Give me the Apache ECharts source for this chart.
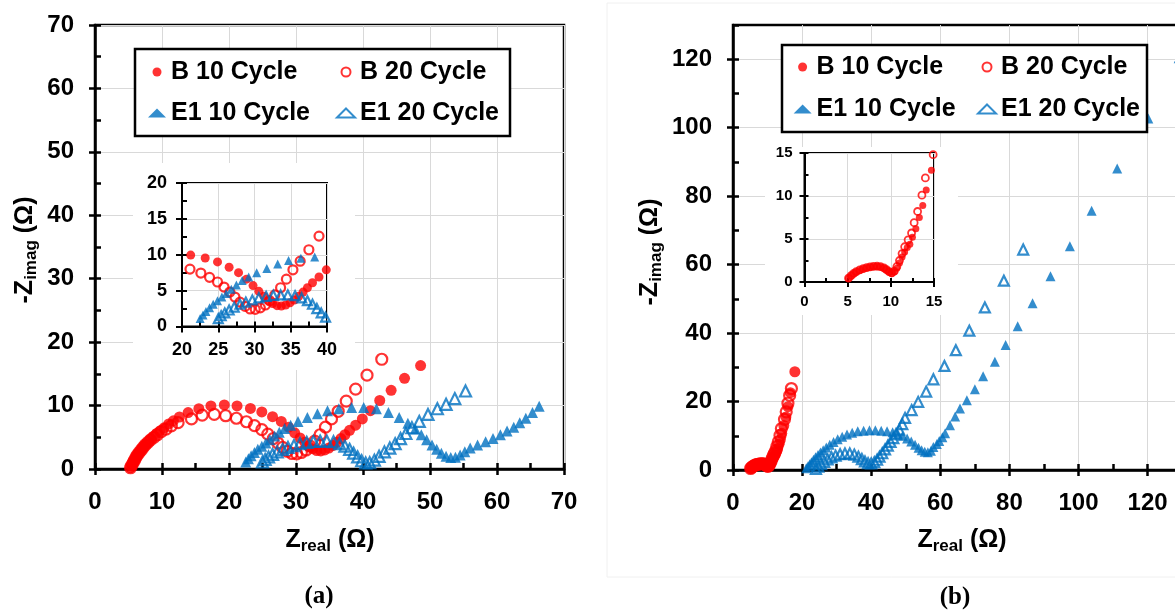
<!DOCTYPE html>
<html>
<head>
<meta charset="utf-8">
<script src="https://cdn.jsdelivr.net/npm/echarts/dist/echarts.min.js"></script>
<style>
  html, body { margin: 0; padding: 0; background: #fff; }
  #chart { width: 1175px; height: 612px; }
</style>
</head>
<body>
<div id="chart"></div>
<script>
// Nyquist plots: impedance spectra of cells B and E1 after 10 and 20 cycles.
// Each point is [Z_real (Ω), -Z_imag (Ω)].

// ---- panel (a) ----
const bCycle10A = [
  [5.3,0.2],[5.5,0.6],[5.7,1.0],[5.9,1.4],[6.1,1.8],[6.3,2.2],[6.6,2.6],[6.9,3.0],[7.2,3.4],[7.5,3.8],
  [7.9,4.2],[8.3,4.7],[8.7,5.1],[9.2,5.6],[9.7,6.0],[10.3,6.5],[11.0,7.1],[11.7,7.6],[12.6,8.2],[13.9,8.9],
  [15.5,9.5],[17.3,9.95],[19.3,10.1],[21.2,9.95],[23.2,9.55],[24.9,9.0],[26.5,8.25],[27.8,7.5],[28.9,6.6],[29.8,5.7],
  [30.6,4.9],[31.3,4.2],[31.9,3.6],[32.5,3.2],[33.1,2.9],[33.7,2.85],[34.3,3.0],[34.9,3.3],[35.5,3.7],[36.1,4.2],
  [36.7,4.8],[37.3,5.4],[38.0,6.1],[38.9,6.9],[39.9,7.9],[41.1,9.2],[42.5,10.8],[44.2,12.4],[46.2,14.3],[48.6,16.3]
];
const bCycle20A = [
  [5.3,0.2],[5.5,0.6],[5.7,1.0],[5.9,1.4],[6.1,1.8],[6.3,2.2],[6.6,2.6],[6.9,3.0],[7.2,3.4],[7.5,3.8],
  [7.9,4.2],[8.3,4.6],[8.8,5.0],[9.3,5.4],[9.9,5.9],[10.6,6.3],[11.4,6.8],[12.4,7.3],[14.4,7.9],[16.0,8.5],
  [17.8,8.6],[19.5,8.4],[21.1,8.0],[22.6,7.45],[23.8,6.85],[24.9,6.2],[25.8,5.5],[26.6,4.8],[27.3,4.1],[28.0,3.4],
  [28.7,2.8],[29.4,2.45],[30.1,2.4],[30.8,2.6],[31.5,3.0],[32.1,3.6],[32.8,4.4],[33.6,5.4],[34.4,6.6],[35.3,7.9],
  [36.3,9.1],[37.5,10.7],[38.9,12.6],[40.6,14.8],[42.8,17.3]
];
const e1Cycle10A = [
  [22.5,1.1],[22.9,1.6],[23.3,2.1],[23.8,2.6],[24.3,3.1],[24.9,3.6],[25.5,4.1],[26.1,4.6],[26.8,5.2],[27.5,5.8],
  [28.3,6.4],[29.2,6.9],[30.3,7.5],[31.7,8.1],[33.2,8.7],[34.7,9.2],[36.4,9.5],[38.3,9.7],[40.1,9.7],[42.0,9.5],
  [43.8,8.9],[45.4,8.1],[46.7,7.2],[47.8,6.3],[48.7,5.4],[49.5,4.6],[50.3,3.8],[51.0,3.1],[51.7,2.5],[52.4,2.0],
  [53.1,1.8],[53.8,1.85],[54.5,2.2],[55.2,2.7],[56.0,3.3],[57.1,3.8],[58.3,4.3],[59.4,4.8],[60.5,5.4],[61.5,6.0],
  [62.5,6.6],[63.4,7.3],[64.3,8.0],[65.3,8.9],[66.3,9.9]
];
const e1Cycle20A = [
  [25.0,1.1],[25.4,1.5],[25.9,1.9],[26.5,2.3],[27.2,2.7],[28.0,3.1],[28.8,3.4],[29.7,3.7],[30.6,4.0],[31.6,4.2],
  [32.6,4.35],[33.6,4.4],[34.6,4.4],[35.6,4.3],[36.5,4.0],[37.3,3.6],[38.0,3.1],[38.6,2.5],[39.2,1.9],[39.8,1.3],
  [40.4,0.95],[41.0,1.0],[41.7,1.4],[42.4,2.0],[43.2,2.7],[44.0,3.3],[44.8,4.0],[45.6,4.8],[46.4,5.6],[47.3,6.5],
  [48.4,7.5],[49.7,8.6],[51.1,9.5],[52.4,10.2],[53.7,11.1],[55.3,12.3]
];

// ---- panel (b) ----
const bCycle10B = [
  [5.1,0.4],[5.4,0.7],[5.7,0.95],[6.0,1.15],[6.4,1.35],[6.8,1.5],[7.2,1.62],[7.6,1.72],[8.0,1.78],[8.4,1.8],
  [8.8,1.75],[9.2,1.6],[9.5,1.4],[9.8,1.15],[10.1,1.0],[10.4,1.2],[10.7,1.6],[11.0,2.2],[11.3,2.9],[11.6,3.5],
  [11.9,4.0],[12.2,4.4],[12.5,5.2],[12.9,6.2],[13.3,7.5],[13.7,8.9],[14.1,10.7],[14.7,13.0],[15.3,15.5],[15.9,18.5],
  [16.6,22.6],[17.9,28.7]
];
const bCycle20B = [
  [5.1,0.45],[5.4,0.75],[5.7,1.0],[6.0,1.2],[6.4,1.4],[6.8,1.55],[7.2,1.67],[7.6,1.76],[8.0,1.82],[8.4,1.83],
  [8.8,1.78],[9.2,1.63],[9.5,1.43],[9.8,1.2],[10.1,1.05],[10.4,1.25],[10.7,1.8],[11.0,2.5],[11.3,3.3],[11.6,4.1],
  [12.0,4.9],[12.4,5.7],[12.7,6.9],[13.1,8.2],[13.6,10.1],[14.0,12.1],[14.9,14.8],[15.4,17.0],[15.9,19.5],[16.4,21.8],
  [16.9,23.8]
];
const e1Cycle10B = [
  [21.2,0.5],[21.7,1.1],[22.2,1.7],[22.7,2.3],[23.3,3.0],[23.9,3.7],[24.6,4.4],[25.3,5.1],[26.1,5.8],[27.0,6.6],
  [28.0,7.4],[29.1,8.2],[30.3,9.0],[31.6,9.7],[33.0,10.4],[34.5,10.9],[36.1,11.3],[37.8,11.5],[39.5,11.6],[41.2,11.6],
  [42.9,11.5],[44.6,11.3],[46.2,11.0],[47.7,10.6],[49.1,10.0],[50.4,9.2],[51.6,8.3],[52.7,7.4],[53.7,6.5],[54.6,5.8],
  [55.5,5.3],[56.4,5.2],[57.3,5.6],[58.0,6.7],[59.0,7.6],[59.7,8.5],[60.6,9.6],[61.4,10.7],[62.8,13.1],[64.3,15.6],
  [65.7,18.0],[67.7,20.4],[70.0,23.6],[72.4,27.4],[75.8,31.6],[78.9,36.5],[82.4,42.0],[86.7,48.7],[91.9,56.6],[97.5,65.4],
  [103.8,75.7],[111.2,88.1],[120.2,102.7],[129.0,120.3]
];
const e1Cycle20B = [
  [24.0,0.3],[24.7,1.0],[25.5,1.7],[26.4,2.4],[27.4,3.1],[28.5,3.7],[29.7,4.2],[31.0,4.6],[32.4,4.8],[33.8,4.8],
  [35.1,4.5],[36.3,3.9],[37.3,3.2],[38.2,2.5],[39.1,2.0],[40.0,1.9],[40.9,2.3],[41.7,3.0],[42.4,3.9],[43.2,4.9],
  [44.0,6.0],[44.8,7.1],[45.6,8.2],[46.4,9.3],[47.2,10.5],[48.1,11.8],[49.0,13.4],[49.8,15.2],[51.7,17.5],[53.6,19.9],
  [55.9,22.9],[58.0,26.5],[61.2,30.4],[64.5,35.0],[68.4,40.7],[72.9,47.5],[78.4,55.3],[84.0,64.4]
];

const seriesNames = ['B 10 Cycle', 'B 20 Cycle', 'E1 10 Cycle', 'E1 20 Cycle'];
const panelLabels = ['(a)', '(b)'];
const yTicksB = [0, 20, 40, 60, 80, 100, 120];

const SANS = '"Liberation Sans", Arial, sans-serif';
const SERIF = '"Liberation Serif", "Times New Roman", serif';
const RED = '#ff0000';
const BLUE = '#0070c0';
const GRID_LINE = '#d9d9d9';

// Two stacked value axes per side: the outer one carries labels, split lines and
// outward major ticks; the inner one only draws inward ticks at the minor step.
function axisPair(dim, gridIndex, min, max, major, minor, o) {
  const pos = dim === 'x' ? 'bottom' : 'left';
  const lw = o.lineWidth;
  const outer = {
    type: 'value', gridIndex, position: pos, min, max, interval: major, z: o.z,
    axisLine: { show: true, onZero: false, lineStyle: { color: '#000', width: lw } },
    axisTick: { show: true, inside: false, length: o.tick, lineStyle: { color: '#000', width: lw } },
    minorTick: { show: false },
    axisLabel: {
      show: true, margin: o.margin, fontSize: o.font, fontWeight: 'bold', fontFamily: SANS, color: '#000',
      showMinLabel: true, showMaxLabel: true, hideOverlap: false
    },
    splitLine: { show: true, lineStyle: { color: GRID_LINE, width: 1 } }
  };
  if (o.customTicks) {
    outer.axisTick.customValues = o.customTicks;
    outer.axisLabel.customValues = o.customTicks;
  }
  const inner = {
    type: 'value', gridIndex, position: pos, min, max, interval: minor, z: o.z,
    axisLine: { show: false },
    axisTick: { show: true, inside: true, length: o.tickIn, lineStyle: { color: '#000', width: lw } },
    minorTick: { show: false },
    axisLabel: { show: false },
    splitLine: { show: false }
  };
  return [outer, inner];
}

const mainStyle = { lineWidth: 2.5, tick: 6, tickIn: 6, font: 24, margin: 21, z: 0 };
const insetStyleA = { lineWidth: 2, tick: 6, tickIn: 5, font: 18, margin: 15, z: 2 };
const insetStyleB = { lineWidth: 2, tick: 5, tickIn: 4, font: 15, margin: 12, z: 2 };

const xAxes = [].concat(
  axisPair('x', 0, 0, 70, 10, 5, mainStyle),
  axisPair('x', 1, 20, 40, 5, 2.5, insetStyleA),
  axisPair('x', 2, 0, 140, 20, 10, mainStyle),
  axisPair('x', 3, 0, 15, 5, 2.5, insetStyleB)
);
const yAxes = [].concat(
  axisPair('y', 0, 0, 70, 10, 5, mainStyle),
  axisPair('y', 1, 0, 20, 5, 2.5, insetStyleA),
  axisPair('y', 2, 0, 130, 20, 10, Object.assign({}, mainStyle, { customTicks: yTicksB })),
  axisPair('y', 3, 0, 15, 5, 2.5, insetStyleB)
);

function scatter(name, data, axisIndex, size, z) {
  const isB = name.charAt(0) === 'B';
  const color = isB ? RED : BLUE;
  const open = name.indexOf('20') >= 0;
  return {
    type: 'scatter', name, data, xAxisIndex: axisIndex, yAxisIndex: axisIndex,
    symbol: isB ? 'circle' : 'triangle', symbolSize: size, z, clip: true,
    itemStyle: open
      ? { color: 'rgba(255,255,255,0)', borderColor: color, borderWidth: size > 8 ? 2.2 : 1.8 }
      : { color: color, borderWidth: 0 },
    emphasis: { disabled: true }
  };
}

const series = [
  // panel (a) main plot
  scatter(seriesNames[0], bCycle10A, 0, 11, 2),
  scatter(seriesNames[1], bCycle20A, 0, 11, 2),
  scatter(seriesNames[2], e1Cycle10A, 0, 11, 2),
  scatter(seriesNames[3], e1Cycle20A, 0, 11, 2),
  // panel (a) inset, 20–40 Ω window
  scatter(seriesNames[0], bCycle10A, 2, 9, 3),
  scatter(seriesNames[1], bCycle20A, 2, 9, 3),
  scatter(seriesNames[2], e1Cycle10A, 2, 9, 3),
  scatter(seriesNames[3], e1Cycle20A, 2, 9, 3),
  // panel (b) main plot
  scatter(seriesNames[0], bCycle10B, 4, 11, 2),
  scatter(seriesNames[1], bCycle20B, 4, 11, 2),
  scatter(seriesNames[2], e1Cycle10B, 4, 10, 2),
  scatter(seriesNames[3], e1Cycle20B, 4, 10, 2),
  // panel (b) inset, 0–15 Ω window
  scatter(seriesNames[0], bCycle10B, 6, 7, 3),
  scatter(seriesNames[1], bCycle20B, 6, 7, 3)
];

const legendText = { fontSize: 25, fontWeight: 'bold', fontFamily: SANS, color: '#000', lineHeight: 26 };
function legendColumn(names, left, top, gap) {
  return {
    data: names, left, top, orient: 'vertical', padding: 0, itemGap: gap,
    itemWidth: 18, itemHeight: 9, selectedMode: false, z: 5, textStyle: legendText
  };
}

const titleRich = {
  m: { fontSize: 25, fontWeight: 'bold', fontFamily: SANS, color: '#000', lineHeight: 30 },
  s: { fontSize: 17, fontWeight: 'bold', fontFamily: SANS, color: '#000', lineHeight: 17, verticalAlign: 'bottom' }
};
function axisTitle(x, y, text, rotation) {
  return {
    type: 'text', x, y, rotation: rotation || 0, z: 5,
    style: { text, rich: titleRich, align: 'center', verticalAlign: 'middle' }
  };
}

const option = {
  backgroundColor: '#fff',
  animation: false,
  grid: [
    { left: 95, top: 25, width: 469, height: 444, show: true, borderColor: '#000', borderWidth: 2.5, backgroundColor: 'transparent', outerBoundsMode: 'none', containLabel: false, z: 0 },
    { left: 182, top: 183, width: 145, height: 143.5, show: true, borderColor: '#000', borderWidth: 2, backgroundColor: 'transparent', outerBoundsMode: 'none', containLabel: false, z: 2 },
    { left: 733, top: 25, width: 483.7, height: 445, show: true, borderColor: '#000', borderWidth: 2.5, backgroundColor: 'transparent', outerBoundsMode: 'none', containLabel: false, z: 0 },
    { left: 804.5, top: 153, width: 129.5, height: 129, show: true, borderColor: '#000', borderWidth: 2, backgroundColor: 'transparent', outerBoundsMode: 'none', containLabel: false, z: 2 }
  ],
  xAxis: xAxes,
  yAxis: yAxes,
  legend: [
    legendColumn([seriesNames[0], seriesNames[2]], 148, 59, 15),
    legendColumn([seriesNames[1], seriesNames[3]], 336, 59, 15),
    legendColumn([seriesNames[0], seriesNames[2]], 793.6, 54, 16),
    legendColumn([seriesNames[1], seriesNames[3]], 977, 54, 16)
  ],
  graphic: [
    // faint frame around panel (b)
    { type: 'rect', z: 0, shape: { x: 607, y: 3, width: 620, height: 574 }, style: { fill: 'none', stroke: '#f0f0f0', lineWidth: 1 } },
    // white backdrops behind the insets
    { type: 'rect', z: 1, shape: { x: 133, y: 163, width: 222, height: 207 }, style: { fill: '#fff' } },
    { type: 'rect', z: 1, shape: { x: 765, y: 147, width: 193, height: 168 }, style: { fill: '#fff' } },
    // legend frames
    { type: 'rect', z: 3, shape: { x: 135, y: 49, width: 375, height: 87 }, style: { fill: '#fff', stroke: '#000', lineWidth: 2.5 } },
    { type: 'rect', z: 3, shape: { x: 782, y: 45, width: 365, height: 87 }, style: { fill: '#fff', stroke: '#000', lineWidth: 2.5 } },
    // axis titles
    axisTitle(330, 540, '{m|Z}{s|real}{m| (Ω)}'),
    axisTitle(962, 540, '{m|Z}{s|real}{m| (Ω)}'),
    axisTitle(25, 250, '{m|-Z}{s|imag}{m| (Ω)}', Math.PI / 2),
    axisTitle(650, 252, '{m|-Z}{s|imag}{m| (Ω)}', Math.PI / 2),
    // panel captions
    { type: 'text', x: 319, y: 597, z: 5, style: { text: panelLabels[0], font: 'bold 25px ' + SERIF, fill: '#000', align: 'center', verticalAlign: 'middle' } },
    { type: 'text', x: 955, y: 598, z: 5, style: { text: panelLabels[1], font: 'bold 25px ' + SERIF, fill: '#000', align: 'center', verticalAlign: 'middle' } }
  ],
  series
};

const chart = echarts.init(document.getElementById('chart'), null, { width: 1175, height: 612 });
chart.setOption(option);
</script>
</body>
</html>
